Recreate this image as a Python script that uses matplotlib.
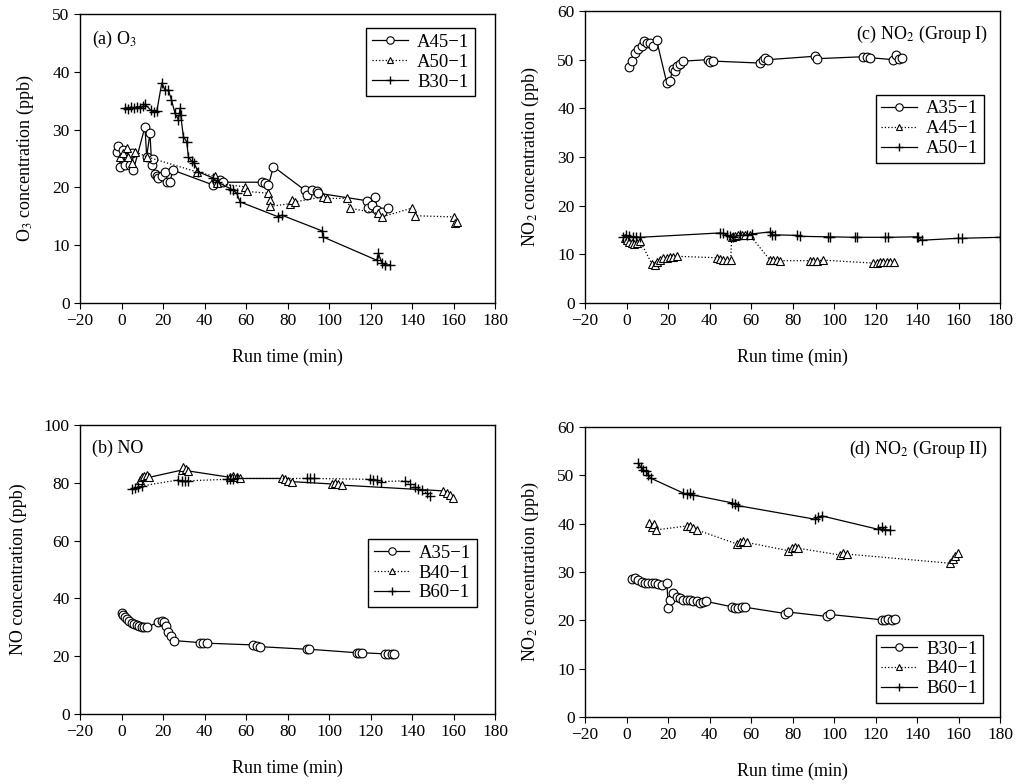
#!/usr/bin/env python3
import matplotlib
matplotlib.use("Agg")
import matplotlib.pyplot as plt
from matplotlib.lines import Line2D

plt.rcParams["font.family"] = ["Liberation Serif", "DejaVu Serif"]
plt.rcParams["mathtext.fontset"] = "stix"

# ---- (a) O3 ----
a_a45_x = [-2.3, -1.5, -0.7, 0.9, 1.7, 3.3, 4.1, 4.9, 5.7, 11.3, 12.1, 13.7, 14.5, 15.3, 16.1,
           17.0, 17.8, 19.4, 21.0, 21.8, 23.4, 24.7, 44.3, 45.9, 47.5, 49.0, 67.6, 69.2, 70.8,
           73.2, 88.4, 89.2, 91.6, 94.0, 94.9, 118.2, 119.0, 120.6, 122.2, 123.0, 125.4, 128.6]
a_a45_y = [26.1, 27.2, 23.6, 26.5, 23.9, 25.3, 23.9, 25.9, 23.0, 30.5, 25.3, 29.4, 23.9, 25.0, 22.4,
           21.9, 21.6, 21.9, 22.7, 21.0, 21.0, 23.0, 20.4, 21.0, 21.3, 20.9, 20.9, 20.7, 20.4,
           23.6, 19.5, 18.7, 19.5, 19.3, 19.0, 17.7, 16.4, 17.0, 18.4, 16.1, 15.8, 16.4]
a_a50_x = [-0.7, 0.9, 2.5, 3.3, 4.9, 6.5, 12.1, 36.2, 45.1, 45.9, 59.5, 60.3, 70.8, 71.6, 71.6,
           81.2, 82.0, 83.6, 97.3, 98.9, 108.5, 110.1, 123.8, 125.4, 139.8, 141.5, 160.0, 160.7, 161.5]
a_a50_y = [25.3, 25.9, 26.8, 25.3, 24.2, 26.2, 25.3, 22.7, 21.9, 20.7, 20.1, 19.3, 19.0, 17.8, 16.7,
           17.2, 17.8, 17.5, 18.4, 18.1, 18.1, 16.4, 15.5, 14.9, 16.4, 15.1, 14.9, 13.8, 14.1]
a_b30_x = [1.7, 3.0, 4.5, 6.0, 7.5, 9.0, 10.5, 11.3, 14.0, 15.5, 17.0, 19.4, 21.0, 22.6, 24.0,
           25.8, 27.4, 28.2, 28.5, 29.8, 31.4, 32.2, 33.8, 34.9, 37.0, 44.3, 45.9, 52.3, 53.9,
           55.5, 57.1, 75.6, 77.2, 96.5, 97.3, 123.0, 123.8, 125.4, 127.0, 129.4]
a_b30_y = [33.8, 33.6, 33.9, 33.7, 34.0, 33.8, 34.1, 34.4, 33.4, 33.1, 33.2, 38.1, 36.8, 36.8, 35.2,
           32.8, 31.7, 33.7, 32.5, 28.8, 27.9, 25.3, 24.5, 24.2, 22.7, 21.6, 21.0, 19.8, 19.5,
           19.0, 17.5, 14.9, 15.2, 12.5, 11.4, 7.4, 8.6, 6.9, 6.6, 6.6]

# ---- (c) NO2 group I ----
c_a35_x = [1.4, 2.8, 4.1, 5.7, 7.3, 8.4, 10.0, 11.3, 12.9, 14.5, 19.4, 21.0, 22.2, 23.4, 24.5,
           25.8, 27.4, 39.4, 40.2, 41.8, 64.3, 65.6, 66.7, 68.4, 90.8, 91.6, 114.1, 115.7, 117.3,
           128.6, 129.9, 131.5, 132.6]
c_a35_y = [48.5, 49.7, 51.4, 52.1, 52.8, 53.8, 53.5, 53.5, 52.9, 54.0, 45.2, 45.6, 48.1, 47.6, 48.7,
           49.2, 49.7, 50.0, 49.5, 49.7, 49.3, 50.0, 50.4, 50.0, 50.7, 50.2, 50.6, 50.6, 50.4,
           50.0, 50.9, 50.2, 50.4]
c_a45_x = [-0.7, 0.1, 1.4, 2.5, 3.6, 4.9, 6.5, 12.1, 13.7, 14.9, 16.1, 17.8, 19.4, 21.0, 22.6, 24.2,
           43.5, 45.1, 46.7, 48.3, 50.2, 50.7, 52.3, 53.9, 55.5, 57.1, 59.5, 69.2, 70.8, 72.4, 74.0,
           88.4, 90.0, 91.6, 94.9, 119.0, 120.6, 122.2, 123.8, 125.4, 127.0, 128.9]
c_a45_y = [13.3, 12.9, 12.6, 12.4, 12.2, 12.4, 12.8, 8.1, 7.8, 8.5, 8.9, 9.3, 9.3, 9.5, 9.5, 9.6,
           9.3, 9.1, 8.9, 8.9, 8.9, 13.5, 13.7, 13.9, 13.9, 14.0, 13.9, 8.8, 8.8, 8.8, 8.7,
           8.7, 8.7, 8.7, 8.8, 8.2, 8.2, 8.4, 8.4, 8.4, 8.5, 8.5]
c_a50_x = [-1.5, -0.2, 1.4, 3.0, 4.6, 6.5, 45.1, 46.7, 48.3, 49.9, 51.5, 54.7, 57.9, 60.3, 69.2,
           70.0, 71.6, 82.0, 83.6, 97.3, 98.1, 110.1, 110.9, 124.6, 126.2, 139.8, 140.6, 142.2,
           159.9, 161.5, 180.0]
c_a50_y = [13.5, 13.9, 13.7, 13.6, 13.6, 13.5, 14.4, 14.3, 14.0, 13.7, 13.6, 13.9, 14.0, 14.2, 14.6,
           14.0, 14.0, 13.9, 13.7, 13.6, 13.6, 13.5, 13.5, 13.5, 13.5, 13.6, 13.5, 12.9,
           13.3, 13.3, 13.5]

# ---- (b) NO ----
b_a35_x = [0.1, 0.9, 1.7, 2.5, 3.6, 4.9, 6.0, 7.3, 8.6, 9.7, 10.8, 12.4, 17.8, 19.4, 20.5, 21.4,
           22.6, 23.7, 25.3, 37.8, 39.4, 41.0, 63.5, 65.1, 66.7, 89.2, 90.5, 113.3, 114.6, 115.7,
           127.0, 128.6, 130.2, 131.3]
b_a35_y = [35.1, 34.3, 33.4, 32.8, 32.3, 31.6, 31.1, 30.7, 30.4, 30.2, 30.0, 30.0, 31.9, 32.2, 31.7, 30.4,
           28.5, 27.0, 25.4, 24.7, 24.5, 24.5, 23.9, 23.5, 23.3, 22.4, 22.4, 21.2, 21.2, 21.2,
           20.8, 20.8, 20.8, 20.8]
b_b40_x = [8.9, 9.7, 10.8, 12.1, 13.4, 29.0, 29.8, 31.1, 32.2, 52.3, 53.9, 55.5, 57.1, 77.2, 78.8,
           80.4, 82.0, 101.3, 102.9, 104.5, 106.1, 155.1, 156.7, 158.3, 159.9]
b_b40_y = [81.0, 81.9, 82.4, 82.7, 81.9, 84.4, 85.4, 84.7, 84.1, 81.9, 82.4, 82.1, 81.5, 81.5, 81.2,
           80.7, 80.4, 79.6, 80.0, 79.6, 79.2, 77.2, 76.6, 75.8, 74.6]
b_b60_x = [4.9, 6.5, 8.1, 9.7, 27.4, 29.0, 30.6, 32.2, 50.7, 52.3, 53.9, 55.5, 89.2, 90.8, 92.8,
           119.8, 121.4, 123.0, 124.9, 136.6, 139.0, 141.4, 143.0, 144.7, 147.1, 148.7]
b_b60_y = [77.7, 78.3, 78.7, 78.9, 81.0, 80.7, 80.7, 80.7, 81.2, 81.4, 81.4, 81.5, 81.5, 81.5, 81.5,
           81.2, 81.0, 81.0, 80.4, 80.7, 79.6, 78.7, 78.0, 77.5, 76.4, 75.4]

# ---- (d) NO2 group II ----
d_b30_x = [2.5, 4.1, 5.7, 7.3, 8.9, 10.5, 12.1, 13.7, 15.3, 16.9, 19.4, 20.2, 21.0, 22.6, 24.2,
           25.8, 27.4, 29.0, 30.6, 32.2, 33.8, 35.4, 37.0, 38.3, 50.7, 52.3, 53.9, 55.5, 57.1,
           76.4, 78.0, 96.5, 98.1, 123.0, 124.6, 126.2, 127.8, 129.4]
d_b30_y = [28.6, 28.7, 28.3, 28.0, 27.8, 27.8, 27.8, 27.7, 27.5, 27.3, 27.7, 22.5, 24.2, 25.6, 24.9,
           24.6, 24.2, 24.1, 24.1, 23.9, 23.9, 23.5, 23.7, 23.9, 22.8, 22.5, 22.5, 22.7, 22.7,
           21.4, 21.7, 20.8, 21.2, 20.1, 20.1, 20.2, 20.1, 20.3]
d_b40_x = [11.0, 12.1, 13.3, 14.2, 29.0, 30.6, 32.2, 33.8, 53.1, 54.7, 56.3, 57.9, 78.0, 79.6, 81.2,
           82.8, 102.9, 104.5, 106.1, 155.9, 157.2, 158.3, 159.9]
d_b40_y = [40.2, 39.2, 39.9, 38.7, 39.5, 39.4, 39.0, 38.7, 35.8, 36.1, 36.3, 36.1, 34.4, 34.9, 35.1,
           34.9, 33.5, 33.9, 33.7, 31.8, 32.6, 33.2, 34.0]
d_b60_x = [5.7, 6.8, 8.1, 9.4, 10.5, 11.6, 27.4, 29.0, 30.6, 32.2, 50.7, 52.3, 53.9, 90.8, 92.4,
           94.0, 121.4, 123.0, 124.6, 127.0]
d_b60_y = [52.5, 51.7, 51.1, 50.8, 50.1, 49.4, 46.3, 46.1, 46.3, 45.9, 44.3, 44.1, 43.7, 40.9, 41.3,
           41.6, 38.8, 39.2, 38.7, 38.7]

xticks = list(range(-20, 181, 20))

circ = dict(marker="o", ms=6.3, mfc="white", mec="black", mew=0.8, color="black")
tri = dict(marker="^", ms=5.5, mfc="white", mec="black", mew=0.8, color="black")
plus = dict(marker="+", ms=7, mec="black", mew=1.0, color="black")
solid = dict(ls="-", lw=0.9)
dotted = dict(ls=":", lw=0.9)


def style(ax, ymax, ystep, ylabel):
    ax.set_xlim(-20, 180)
    ax.set_ylim(0, ymax)
    ax.set_xticks(xticks)
    ax.set_yticks(range(0, ymax + 1, ystep))
    ax.tick_params(direction="out", length=4, width=0.8, labelsize=12.5, top=False, right=False)
    ax.set_xlabel("Run time (min)", fontsize=13, labelpad=14)
    ax.set_ylabel(ylabel, fontsize=13, labelpad=12)
    for s in ax.spines.values():
        s.set_linewidth(1.0)


def legend(ax, names, loc):
    h = [Line2D([], [], **circ, **solid),
         Line2D([], [], **tri, **dotted),
         Line2D([], [], **plus, **solid)]
    ax.legend(h, names, loc=loc, fontsize=13.5, fancybox=False, edgecolor="black",
              framealpha=1, handlelength=1.9, handletextpad=0.5, borderpad=0.3,
              labelspacing=0.15, borderaxespad=0, markerscale=0.85)


fig = plt.figure(figsize=(10.21, 7.84), dpi=100)
ax_a = fig.add_axes([0.0784, 0.6135, 0.4065, 0.3686])
ax_c = fig.add_axes([0.5730, 0.6135, 0.4065, 0.3725])
ax_b = fig.add_axes([0.0784, 0.0893, 0.4065, 0.3686])
ax_d = fig.add_axes([0.5730, 0.0855, 0.4065, 0.3700])

# (a)
ax_a.plot(a_a45_x, a_a45_y, **circ, **solid)
ax_a.plot(a_a50_x, a_a50_y, **tri, **dotted)
ax_a.plot(a_b30_x, a_b30_y, **plus, **solid)
style(ax_a, 50, 10, "O$_3$ concentration (ppb)")
ax_a.text(0.03, 0.95, "(a) O$_3$", transform=ax_a.transAxes, fontsize=13, va="top")
legend(ax_a, ["A45\u22121", "A50\u22121", "B30\u22121"], (0.69, 0.715))

# (c)
ax_c.plot(c_a35_x, c_a35_y, **circ, **solid)
ax_c.plot(c_a45_x, c_a45_y, **tri, **dotted)
ax_c.plot(c_a50_x, c_a50_y, **plus, **solid)
style(ax_c, 60, 10, "NO$_2$ concentration (ppb)")
ax_c.text(0.97, 0.955, "(c) NO$_2$ (Group I)", transform=ax_c.transAxes, fontsize=13,
          va="top", ha="right")
legend(ax_c, ["A35\u22121", "A45\u22121", "A50\u22121"], (0.70, 0.48))

# (b) - the triangles are joined by the solid line and the crosses by the dotted one
ax_b.plot(b_a35_x, b_a35_y, **circ, **solid)
ax_b.plot(b_b40_x, b_b40_y, **tri, **solid)
ax_b.plot(b_b60_x, b_b60_y, **plus, **dotted)
style(ax_b, 100, 20, "NO concentration (ppb)")
ax_b.text(0.03, 0.948, "(b) NO", transform=ax_b.transAxes, fontsize=13, va="top")
legend(ax_b, ["A35\u22121", "B40\u22121", "B60\u22121"], (0.694, 0.37))

# (d)
ax_d.plot(d_b30_x, d_b30_y, **circ, **solid)
ax_d.plot(d_b40_x, d_b40_y, **tri, **dotted)
ax_d.plot(d_b60_x, d_b60_y, **plus, **solid)
style(ax_d, 60, 10, "NO$_2$ concentration (ppb)")
ax_d.text(0.97, 0.96, "(d) NO$_2$ (Group II)", transform=ax_d.transAxes, fontsize=13,
          va="top", ha="right")
legend(ax_d, ["B30\u22121", "B40\u22121", "B60\u22121"], (0.70, 0.048))

fig.savefig("out.png", dpi=100)
